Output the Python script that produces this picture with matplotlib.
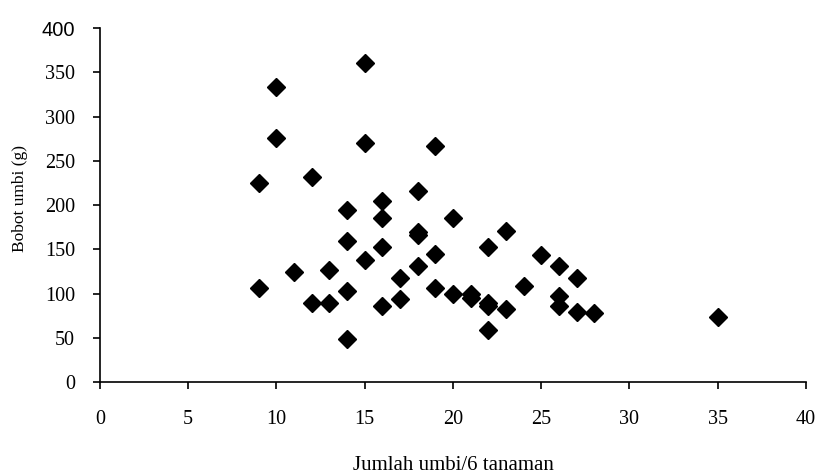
import matplotlib
matplotlib.use("Agg")
import matplotlib.pyplot as plt
import numpy as np

# Jumlah umbi per 6 tanaman vs bobot umbi (g)
jumlah = [9, 9, 10, 10, 11, 12, 12, 13, 13, 14, 14, 14, 14,
          15, 15, 15, 16, 16, 16, 16, 17, 17, 18, 18, 18, 18,
          19, 19, 19, 20, 20, 21, 21, 22, 22, 22, 22, 23, 23,
          24, 25, 26, 26, 26, 27, 27, 28, 35]
bobot = [225, 106, 333, 276, 124, 232, 89, 126, 89, 194, 159, 103, 49,
         361, 270, 138, 204, 185, 152, 86, 118, 94, 216, 170, 166, 131,
         267, 145, 106, 185, 100, 100, 95, 152, 89, 86, 59, 171, 82,
         108, 143, 131, 97, 86, 117, 79, 78, 73]

xticks = np.arange(0, 41, 5)
yticks = np.arange(0, 401, 50)

plt.rcParams['font.family'] = ['Liberation Serif', 'DejaVu Serif']

fig = plt.figure(figsize=(8.16, 4.74), dpi=100)
ax = fig.add_axes([0.1225, 0.1941, 0.8652, 0.7468])

ax.plot(jumlah, bobot, "D", color="black", markersize=9, linestyle="None")

ax.set_xlim(0, 40)
ax.set_ylim(0, 400)
ax.set_xticks(xticks)
ax.set_yticks(yticks)
ax.spines['top'].set_visible(False)
ax.spines['right'].set_visible(False)
for s in ['left', 'bottom']:
    ax.spines[s].set_linewidth(1.2)
ax.tick_params(axis='both', direction='out', length=5, width=1.2, labelsize=14.5)
ax.tick_params(axis='x', pad=15)
ax.tick_params(axis='y', pad=13)

# the top label is drawn in a sans font in the original
ax.get_yticklabels()[-1].set_fontfamily('Liberation Sans')

ax.set_xlabel('Jumlah umbi/6 tanaman', fontsize=15)
ax.xaxis.set_label_coords(0.5, -0.2345)
ax.xaxis.label.set_va('center')
ax.set_ylabel('Bobot umbi (g)', fontsize=12.5)
ax.yaxis.set_label_coords(-0.1133, 0.517)
ax.yaxis.label.set_va('center')

fig.savefig("out.png", dpi=100)
